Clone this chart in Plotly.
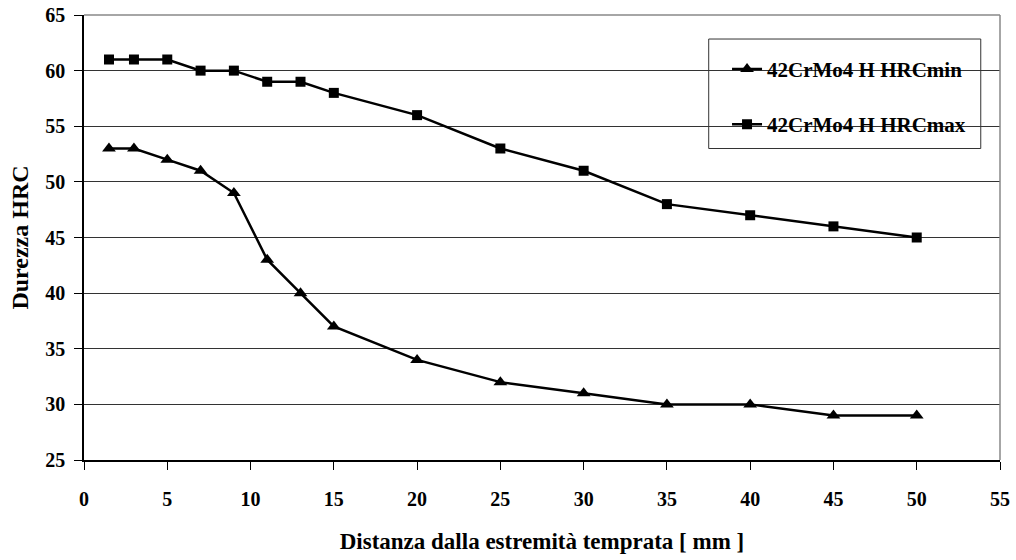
import plotly.graph_objects as go

distanza = [1.5, 3, 5, 7, 9, 11, 13, 15, 20, 25, 30, 35, 40, 45, 50]
hrc_min = [53, 53, 52, 51, 49, 43, 40, 37, 34, 32, 31, 30, 30, 29, 29]
hrc_max = [61, 61, 61, 60, 60, 59, 59, 58, 56, 53, 51, 48, 47, 46, 45]
name_min = "42CrMo4 H HRCmin"
name_max = "42CrMo4 H HRCmax"
x_ticks = [0, 5, 10, 15, 20, 25, 30, 35, 40, 45, 50, 55]
y_ticks = [25, 30, 35, 40, 45, 50, 55, 60, 65]

FONT = "Liberation Serif"

fig = go.Figure()
fig.add_trace(go.Scatter(
    x=distanza, y=hrc_min, name="<b>" + name_min + "</b>", mode="lines+markers",
    line=dict(color="black", width=2.5),
    marker=dict(symbol="triangle-up", size=12, color="black"),
    legendgroup="a",
))
fig.add_trace(go.Scatter(
    x=distanza, y=hrc_max, name="<b>" + name_max + "</b>", mode="lines+markers",
    line=dict(color="black", width=2.5),
    marker=dict(symbol="square", size=10, color="black"),
    legendgroup="b",
))

fig.update_layout(
    width=1016, height=560,
    margin=dict(l=84, r=16, t=15, b=100, autoexpand=False),
    paper_bgcolor="white", plot_bgcolor="white",
    font=dict(family=FONT, size=15, color="black"),
    showlegend=True,
    legend=dict(
        x=0.702, y=0.924, xanchor="left", yanchor="top",
        bgcolor="rgba(0,0,0,0)", borderwidth=0,
        font=dict(family=FONT, size=21, color="black"),
        tracegroupgap=25, itemwidth=30,
    ),
    xaxis=dict(
        range=[0, 55], tickvals=x_ticks, ticktext=["<b>%d</b>" % v for v in x_ticks],
        showgrid=False, zeroline=False, automargin=False,
        showline=True, linecolor="black", linewidth=1.5,
        ticks="outside", ticklen=8, tickcolor="black", tickwidth=1,
        tickfont=dict(family=FONT, size=20, color="black"),
        ticklabelstandoff=12,
        title=dict(text="<b>Distanza dalla estremità temprata [ mm ]</b>",
                   font=dict(family=FONT, size=23, color="black"), standoff=24),
    ),
    yaxis=dict(
        range=[25, 65], tickvals=y_ticks, ticktext=["<b>%d</b>" % v for v in y_ticks],
        showgrid=True, gridcolor="#333333", gridwidth=1, zeroline=False, automargin=False,
        showline=True, linecolor="black", linewidth=1.5,
        ticks="outside", ticklen=8, tickcolor="black", tickwidth=1,
        tickfont=dict(family=FONT, size=20, color="black"),
        ticklabelstandoff=5,
        title=dict(text="<b>Durezza HRC</b>",
                   font=dict(family=FONT, size=24, color="black"), standoff=10),
    ),
    shapes=[
        dict(type="line", xref="paper", yref="paper", x0=0, x1=1, y0=1, y1=1,
             line=dict(color="#888888", width=1.5)),
        dict(type="line", xref="paper", yref="paper", x0=1, x1=1, y0=0, y1=1,
             line=dict(color="#888888", width=1.5)),
        dict(type="rect", xref="paper", yref="paper", x0=0.682, x1=0.979,
             y0=0.7, y1=0.946, layer="between", fillcolor="white",
             line=dict(color="#333333", width=1)),
    ],
)

fig.write_html("out.html")
